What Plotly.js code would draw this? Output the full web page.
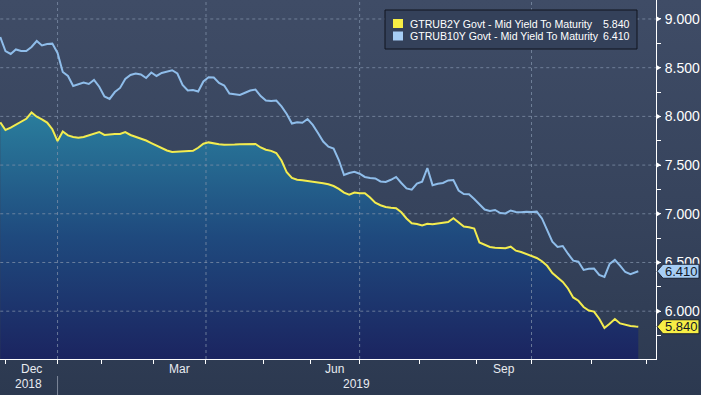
<!DOCTYPE html>
<html>
<head>
<meta charset="utf-8">
<script src="https://cdn.plot.ly/plotly-3.0.1.min.js"></script>
<style>
html,body{margin:0;padding:0;background:#2d3a51;}
#chart{width:701px;height:395px;background:linear-gradient(to bottom,#3f4c66 0%,#36435c 55%,#2c3950 100%);}
</style>
</head>
<body>
<div id="chart"></div>
<script>
// ---------------- DATA ----------------
const seriesNames = ['GTRUB2Y Govt - Mid Yield To Maturity', 'GTRUB10Y Govt - Mid Yield To Maturity'];
// Russian market calendar: weekdays minus these holidays
const holidays = ['2018-12-31','2019-01-01','2019-01-02','2019-01-03','2019-01-04','2019-01-07','2019-01-08',
  '2019-03-08','2019-05-01','2019-05-02','2019-05-03','2019-05-09','2019-05-10','2019-06-12'];
const calendarStart = '2018-11-29';
const calendarEnd = '2019-12-06';
const dataEnd = '2019-11-27';

// values read every second trading day from 2018-11-29, plus the final day
const yield2y = [
7.940,7.860,7.884,7.915,7.937,7.975,8.040,7.997,7.970,7.936,
7.868,7.747,7.845,7.805,7.789,7.781,7.789,7.805,7.822,7.840,
7.809,7.815,7.819,7.819,7.838,7.809,7.792,7.774,7.752,7.726,
7.700,7.670,7.650,7.634,7.638,7.645,7.649,7.647,7.678,7.720,
7.733,7.721,7.715,7.709,7.708,7.711,7.714,7.714,7.714,7.717,
7.681,7.658,7.646,7.624,7.547,7.426,7.368,7.349,7.344,7.338,
7.329,7.321,7.313,7.303,7.285,7.255,7.217,7.195,7.218,7.210,
7.210,7.167,7.113,7.088,7.070,7.061,7.056,7.015,6.952,6.902,
6.895,6.879,6.897,6.893,6.899,6.909,6.916,6.954,6.909,6.870,
6.861,6.849,6.705,6.680,6.659,6.652,6.646,6.646,6.662,6.621,
6.608,6.587,6.562,6.546,6.513,6.466,6.392,6.346,6.300,6.233,
6.141,6.107,6.043,6.007,5.996,5.922,5.828,5.872,5.920,5.874,
5.858,5.848,5.842,5.840];
const yield10y = [
8.815,8.671,8.641,8.687,8.671,8.671,8.713,8.774,8.728,8.743,
8.747,8.651,8.456,8.415,8.312,8.333,8.348,8.333,8.374,8.305,
8.204,8.179,8.250,8.292,8.384,8.425,8.440,8.430,8.394,8.451,
8.415,8.446,8.461,8.474,8.440,8.322,8.266,8.271,8.256,8.358,
8.401,8.399,8.343,8.317,8.235,8.230,8.220,8.243,8.266,8.276,
8.209,8.163,8.158,8.163,8.102,8.025,7.927,7.939,7.935,7.973,
7.912,7.830,7.742,7.689,7.670,7.552,7.398,7.419,7.432,7.411,
7.378,7.368,7.363,7.332,7.327,7.349,7.378,7.316,7.260,7.247,
7.310,7.330,7.470,7.294,7.309,7.316,7.342,7.347,7.239,7.203,
7.200,7.152,7.098,7.044,7.029,7.039,7.008,7.003,7.034,7.018,
7.016,7.022,7.018,7.022,6.952,6.839,6.714,6.659,6.669,6.590,
6.519,6.508,6.423,6.436,6.438,6.372,6.351,6.485,6.526,6.467,
6.402,6.380,6.405,6.410];
const yTicks = [6.0,6.5,7.0,7.5,8.0,8.5,9.0];
const monthAbbr = ['Jan','Feb','Mar','Apr','May','Jun','Jul','Aug','Sep','Oct','Nov','Dec'];
const shownMonths = ['Dec','Mar','Jun','Sep'];
const gridMonths = ['Jan','Apr','Jul','Oct'];

// ---------------- STYLE ----------------
const C2 = '#f3ec4f', C10 = '#8fbdea';
const FONT = '"Liberation Sans", Arial, sans-serif';
const W = 701, H = 395, M = {l:0, r:45, t:0, b:36};
const PW = W - M.l - M.r, PH = H - M.t - M.b;
const yRange = [5.509, 9.195];
const pxY = (yRange[1]-yRange[0]) / PH;   // data units per pixel
const px = p => p / PW;                   // paper units per pixel (x)
const pyP = p => 1 - p / PH;              // paper y from pixel y (top)

function buildDays(start, end, skip) {
  const out = [];
  const d = new Date(start + 'T00:00:00Z'), e = new Date(end + 'T00:00:00Z');
  while (d <= e) {
    const dow = d.getUTCDay(), s = d.toISOString().slice(0,10);
    if (dow !== 0 && dow !== 6 && !skip.includes(s)) out.push(s);
    d.setUTCDate(d.getUTCDate() + 1);
  }
  return out;
}
const days = buildDays(calendarStart, calendarEnd, holidays);
const lastIdx = days.indexOf(dataEnd);
const sampleDates = days.filter((d,i) => i <= lastIdx && (i % 2 === 0 || i === lastIdx));
const xRange = [-0.1, days.length - 1 - 0.2];

// month starts
const starts = [];
for (let i = 1; i < days.length; i++) if (days[i].slice(0,7) !== days[i-1].slice(0,7)) starts.push(i);
const tickVals = starts.map(i => days[i]);

// grid trace (dotted) drawn above the fill, below the lines
const gx = [], gy = [];
yTicks.forEach(v => { gx.push(days[0], days[days.length-1], null); gy.push(v, v, null); });
starts.forEach(i => {
  if (gridMonths.includes(monthAbbr[+days[i].slice(5,7)-1])) { gx.push(days[i], days[i], null); gy.push(yRange[0], yRange[1], null); }
});

const traces = [
  {x: sampleDates, y: yield2y, type:'scatter', mode:'lines', fill:'tozeroy', line:{width:0, color:C2},
   fillcolor:'#22507f',
   fillgradient:{type:'vertical', start:5.5, stop:8.05, colorscale:[[0,'#1b2460'],[0.5,'#1f4a7e'],[1,'#2a7e9d']]},
   hoverinfo:'skip', showlegend:false},
  {x: gx, y: gy, type:'scatter', mode:'lines', line:{color:'rgba(130,145,170,0.75)', width:1, dash:'dot'},
   hoverinfo:'skip', showlegend:false},
  {x: sampleDates, y: yield10y, type:'scatter', mode:'lines', name: seriesNames[1], line:{color:C10, width:2}, showlegend:false},
  {x: sampleDates, y: yield2y, type:'scatter', mode:'lines', name: seriesNames[0], line:{color:C2, width:2}, showlegend:false}
];

const shapes = [], annotations = [];
// major tick arrows
yTicks.forEach(v => {
  shapes.push({type:'path', xref:'paper', yref:'y', layer:'above',
    path:`M 1,${v+3*pxY} L ${1+px(5)},${v} L 1,${v-3*pxY} Z`, fillcolor:'#ffffff', line:{width:0}});
});
// month labels (only for months fully inside the calendar)
for (let j = 0; j + 1 < starts.length; j++) {
  const s = starts[j], e = starts[j+1];
  const m = monthAbbr[+days[s].slice(5,7)-1];
  if (shownMonths.includes(m)) annotations.push({xref:'x', yref:'paper', x:(s+e)/2, y:pyP(369-M.t), text:m,
    showarrow:false, xanchor:'center', yanchor:'middle', font:{family:FONT, size:12, color:'#e8ebf0'}});
}
// year labels + separators
const years = [...new Set(days.map(d => d.slice(0,4)))];
years.forEach(yr => {
  const first = days.findIndex(d => d.slice(0,4) === yr);
  const nextYr = days.findIndex(d => d.slice(0,4) > yr);
  const a = Math.max(first, xRange[0]), b = nextYr < 0 ? xRange[1] : nextYr;
  annotations.push({xref:'x', yref:'paper', x:(a+b)/2, y:pyP(384), text:yr, showarrow:false,
    xanchor:'center', yanchor:'middle', font:{family:FONT, size:12, color:'#e8ebf0'}});
  if (first > 0) shapes.push({type:'line', xref:'x', yref:'paper', x0:first, x1:first, y0:pyP(376), y1:pyP(395),
    line:{color:'#7d889a', width:1}});
});
// legend box
shapes.push({type:'rect', xref:'paper', yref:'paper', layer:'above', x0:px(385), x1:px(637), y0:pyP(49), y1:pyP(10),
  fillcolor:'#34415a', line:{color:'#10151f', width:1}});
const legendRows = [{name:seriesNames[0], color:'#f7ee45', val:yield2y[yield2y.length-1], yc:23.5},
                    {name:seriesNames[1], color:'#a6cdf4', val:yield10y[yield10y.length-1], yc:36}];
legendRows.forEach(r => {
  shapes.push({type:'rect', xref:'paper', yref:'paper', layer:'above', x0:px(393), x1:px(403), y0:pyP(r.yc+4.5), y1:pyP(r.yc-4.5),
    fillcolor:r.color, line:{width:0}});
  annotations.push({xref:'paper', yref:'paper', x:px(408), y:pyP(r.yc), text:r.name, showarrow:false,
    xanchor:'left', yanchor:'middle', font:{family:FONT, size:10.6, color:'#ffffff'}});
  annotations.push({xref:'paper', yref:'paper', x:px(632), y:pyP(r.yc), text:r.val.toFixed(3), showarrow:false,
    xanchor:'right', yanchor:'middle', font:{family:FONT, size:10.6, color:'#ffffff'}});
});
// last-value tags on the right axis
[{v:yield10y[yield10y.length-1], c:'#a6cdf4'}, {v:yield2y[yield2y.length-1], c:'#f7ee45'}].forEach(t => {
  const h = 7*pxY;
  shapes.push({type:'path', xref:'paper', yref:'y', layer:'above',
    path:`M ${1+px(1)},${t.v} L ${1+px(7)},${t.v+h} L ${1+px(43)},${t.v+h} L ${1+px(43)},${t.v-h} L ${1+px(7)},${t.v-h} Z`,
    fillcolor:t.c, line:{color:'#1a2030', width:1}});
  annotations.push({xref:'paper', yref:'y', x:1+px(25), y:t.v, text:t.v.toFixed(3), showarrow:false,
    xanchor:'center', yanchor:'middle', font:{family:FONT, size:13, color:'#111827'}});
});

const layout = {
  width:W, height:H, margin:M, paper_bgcolor:'rgba(0,0,0,0)', plot_bgcolor:'rgba(0,0,0,0)',
  showlegend:false, font:{family:FONT, color:'#ffffff'},
  xaxis:{type:'category', categoryorder:'array', categoryarray:days, range:xRange, showgrid:false, zeroline:false,
    tickmode:'array', tickvals:tickVals, showticklabels:false, ticks:'outside', ticklen:4, tickcolor:'#ffffff',
    showline:true, linecolor:'#ffffff', linewidth:1, fixedrange:true},
  yaxis:{side:'right', range:yRange, showgrid:false, zeroline:false, tickmode:'array', tickvals:yTicks,
    ticktext:yTicks.map(v => v.toFixed(3)), ticks:'outside', ticklen:5, tickcolor:'rgba(0,0,0,0)',
    tickfont:{family:FONT, size:14, color:'#ffffff'}, showline:true, linecolor:'#ffffff', linewidth:1,
    minor:{tickmode:'linear', tick0:0, dtick:0.25, ticks:'outside', ticklen:4, tickcolor:'#ffffff', showgrid:false},
    fixedrange:true},
  shapes:shapes, annotations:annotations
};
Plotly.newPlot('chart', traces, layout, {staticPlot:true, displayModeBar:false});
</script>
</body>
</html>
